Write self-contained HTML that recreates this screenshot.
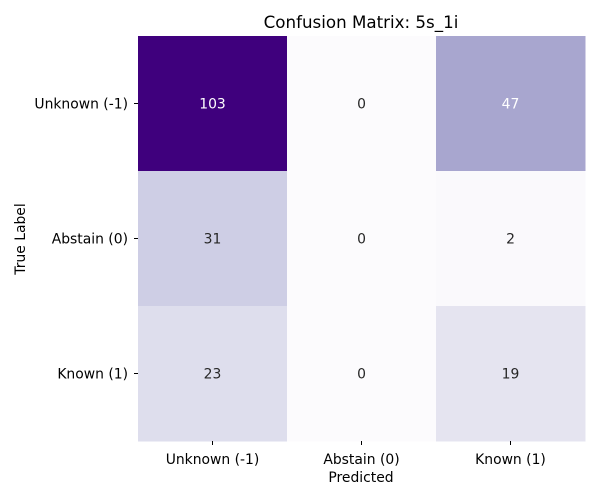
<!DOCTYPE html>
<html><head><meta charset="utf-8"><style>
body{margin:0;background:#fff;font-family:"DejaVu Sans","Liberation Sans",sans-serif;}
</style></head><body>
<svg id="chart" width="600" height="500" xmlns="http://www.w3.org/2000/svg" font-family="DejaVu Sans, Liberation Sans, sans-serif">
<text x="361" y="28" font-size="16.7" text-anchor="middle" fill="#000">Confusion Matrix: 5s_1i</text>
<text x="361" y="482" font-size="13.9" text-anchor="middle" fill="#000">Predicted</text>
<text transform="translate(25,239) rotate(-90)" font-size="13.9" text-anchor="middle" fill="#000">True Label</text>
<g id="cells"></g><g id="ticks"></g>
</svg>
<script>
const rowLabels=["Unknown (-1)","Abstain (0)","Known (1)"];
const colLabels=["Unknown (-1)","Abstain (0)","Known (1)"];
const row0=[103,0,47];
const row1=[31,0,2];
const row2=[23,0,19];
const matrix=[row0,row1,row2];
const X0=138,Y0=36,W=447,H=405;
const cw=W/colLabels.length,ch=H/rowLabels.length;
const stops=["#fcfbfd","#efedf5","#dadaeb","#bcbddc","#9e9ac8","#807dba","#6a51a3","#54278f","#3f007d"];
function hex(h){return [1,3,5].map(i=>parseInt(h.substr(i,2),16));}
function color(t){t=Math.max(0,Math.min(1,t));const p=t*(stops.length-1);const i=Math.min(Math.floor(p),stops.length-2);const f=p-i;const a=hex(stops[i]),b=hex(stops[i+1]);return "rgb("+a.map((v,k)=>Math.round(v+(b[k]-v)*f)).join(",")+")";}
const maxV=Math.max(...matrix.flat());
const ns="http://www.w3.org/2000/svg";
const cells=document.getElementById("cells"),ticks=document.getElementById("ticks");
matrix.forEach((row,r)=>row.forEach((v,c)=>{
 const t=v/maxV;
 const rect=document.createElementNS(ns,"rect");
 rect.setAttribute("x",X0+c*cw);rect.setAttribute("y",Y0+r*ch);
 rect.setAttribute("width",cw+0.5);rect.setAttribute("height",ch+0.5);
 rect.setAttribute("fill",color(t));
 
 
 cells.appendChild(rect);
 const tx=document.createElementNS(ns,"text");
 tx.setAttribute("x",X0+(c+0.5)*cw);tx.setAttribute("y",Y0+(r+0.5)*ch+5);
 tx.setAttribute("text-anchor","middle");tx.setAttribute("font-size","13.9");
 tx.setAttribute("fill",t>0.4?"#fff":"#262626");
 tx.textContent=v;
 
 
 cells.appendChild(tx);
}));
rowLabels.forEach((l,r)=>{
 const y=Y0+(r+0.5)*ch;
 const ln=document.createElementNS(ns,"line");
 ln.setAttribute("x1",X0-4);ln.setAttribute("x2",X0);ln.setAttribute("y1",y);ln.setAttribute("y2",y);ln.setAttribute("stroke","#000");
 
 
 ticks.appendChild(ln);
 const tx=document.createElementNS(ns,"text");
 tx.setAttribute("x",X0-10);tx.setAttribute("y",y+5);tx.setAttribute("text-anchor","end");tx.setAttribute("font-size","13.9");
 tx.textContent=l;
 
 
 ticks.appendChild(tx);
});
colLabels.forEach((l,c)=>{
 const x=X0+(c+0.5)*cw;
 const ln=document.createElementNS(ns,"line");
 ln.setAttribute("x1",x);ln.setAttribute("x2",x);ln.setAttribute("y1",Y0+H);ln.setAttribute("y2",Y0+H+4);ln.setAttribute("stroke","#000");
 
 
 ticks.appendChild(ln);
 const tx=document.createElementNS(ns,"text");
 tx.setAttribute("x",x);tx.setAttribute("y",Y0+H+23);tx.setAttribute("text-anchor","middle");tx.setAttribute("font-size","13.9");
 tx.textContent=l;
 
 
 ticks.appendChild(tx);
});
</script>
</body></html>
